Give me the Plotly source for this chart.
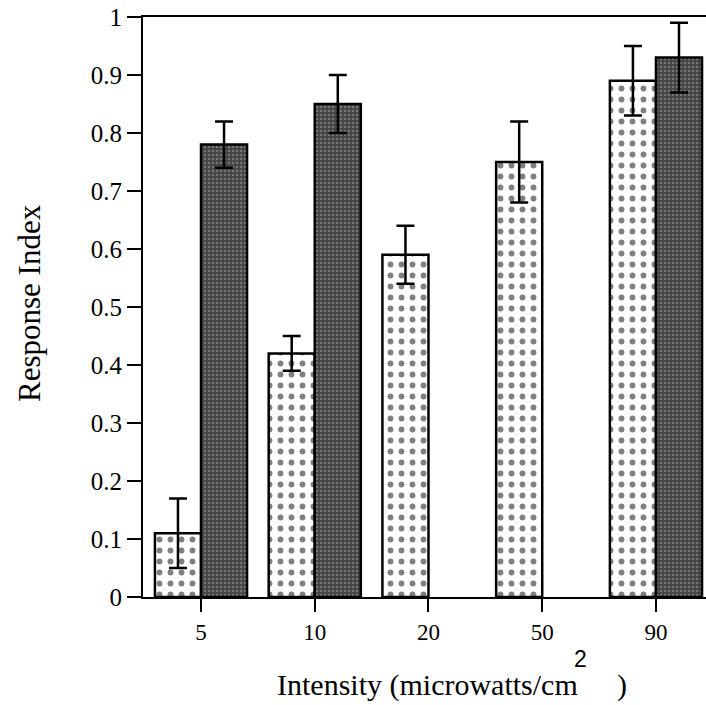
import plotly.graph_objects as go

categories = ["5", "10", "20", "50", "90"]
light_values = [0.11, 0.42, 0.59, 0.75, 0.89]
light_errors = [0.06, 0.03, 0.05, 0.07, 0.06]
dark_values = [0.78, 0.85, None, None, 0.93]
dark_errors = [0.04, 0.05, None, None, 0.06]
y_tick_vals = [0, 0.1, 0.2, 0.3, 0.4, 0.5, 0.6, 0.7, 0.8, 0.9, 1.0]
y_tick_text = ["0", "0.1", "0.2", "0.3", "0.4", "0.5", "0.6", "0.7", "0.8", "0.9", "1"]

FONT = "Liberation Serif"

fig = go.Figure()
fig.add_trace(go.Bar(
    x=categories, y=light_values,
    marker=dict(
        color="white",
        line=dict(color="black", width=2.5),
        pattern=dict(shape=".", bgcolor="white", fgcolor="black", size=11, solidity=0.22, fillmode="overlay"),
    ),
    error_y=dict(type="data", array=light_errors, visible=True, color="black", thickness=2.5, width=9),
    showlegend=False,
))
fig.add_trace(go.Bar(
    x=categories, y=dark_values,
    marker=dict(
        color="#444444",
        line=dict(color="black", width=2.5),
        pattern=dict(shape=".", bgcolor="#444444", fgcolor="#a8a8a8", size=4, solidity=0.3, fillmode="overlay"),
    ),
    error_y=dict(type="data", array=dark_errors, visible=True, color="black", thickness=2.5, width=9),
    showlegend=False,
))

fig.update_layout(
    width=706, height=705,
    margin=dict(l=143, r=0, t=17, b=108),
    paper_bgcolor="white", plot_bgcolor="white",
    barmode="group", bargap=0.19, bargroupgap=0,
    font=dict(family=FONT, color="black"),
)
fig.update_xaxes(
    type="category", range=[-0.51, 4.44],
    showline=True, linecolor="black", linewidth=2, mirror=True,
    ticks="outside", ticklen=13, tickwidth=2, tickcolor="black",
    tickfont=dict(family=FONT, size=23, color="black"),
    showgrid=False, zeroline=False,
)
fig.update_yaxes(
    range=[0, 1],
    tickvals=y_tick_vals, ticktext=y_tick_text,
    showline=True, linecolor="black", linewidth=2,
    ticks="outside", ticklen=14, tickwidth=2, tickcolor="black",
    tickfont=dict(family=FONT, size=25, color="black"),
    showgrid=False, zeroline=False,
)

fig.add_annotation(text="Response Index", textangle=-90, xref="paper", yref="paper",
                   x=-143/563 + 29/563, y=(705-108-303)/580, xanchor="center", yanchor="middle",
                   showarrow=False, font=dict(family=FONT, size=31, color="black"))
fig.add_annotation(text="Intensity (microwatts/cm", xref="paper", yref="paper",
                   x=(275-143)/563, y=-(685-597)/580, xanchor="left", yanchor="middle",
                   showarrow=False, font=dict(family=FONT, size=30, color="black"))
fig.add_annotation(text="2", xref="paper", yref="paper",
                   x=(580-143)/563, y=-(659-597)/580, xanchor="center", yanchor="middle",
                   showarrow=False, font=dict(family="Liberation Sans", size=23, color="black"))
fig.add_annotation(text=")", xref="paper", yref="paper",
                   x=(622-143)/563, y=-(685-597)/580, xanchor="center", yanchor="middle",
                   showarrow=False, font=dict(family=FONT, size=30, color="black"))

fig.write_html("out.html")
